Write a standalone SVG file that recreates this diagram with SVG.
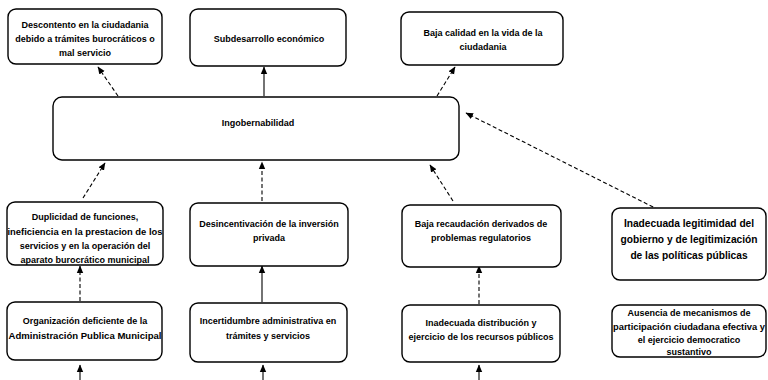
<svg xmlns="http://www.w3.org/2000/svg" width="768" height="380" viewBox="0 0 768 380">
<style>
.box{fill:#fff;stroke:#000;stroke-width:1.4}
.t{font-family:"Liberation Sans",Arial,sans-serif;font-weight:bold;font-size:9px;fill:#000;text-anchor:middle}
.t2{font-family:"Liberation Sans",Arial,sans-serif;font-weight:bold;font-size:10.2px;fill:#000;text-anchor:middle}
.c{stroke:#000;stroke-width:1.1;fill:none;marker-end:url(#ah)}
.d{stroke-dasharray:4 2.5}
</style>
<defs>
<marker id="ah" markerWidth="8" markerHeight="8" refX="7" refY="4" orient="auto" markerUnits="userSpaceOnUse">
<path d="M0,0.8 L7.5,4 L0,7.2 Z" fill="#000"/>
</marker>
</defs>
<rect width="768" height="380" fill="#fff"/>
<g id="connectors">
<line class="c d" x1="118" y1="96" x2="98" y2="67"/>
<line class="c" x1="264" y1="96" x2="264" y2="67"/>
<line class="c d" x1="437" y1="96" x2="455" y2="67"/>
<line class="c d" x1="83" y1="198" x2="105" y2="163"/>
<line class="c d" x1="262" y1="201" x2="262" y2="162"/>
<line class="c d" x1="453" y1="201" x2="430" y2="165"/>
<line class="c d" x1="659" y1="210" x2="466" y2="113"/>
<line class="c d" x1="80" y1="301" x2="80" y2="266"/>
<line class="c" x1="262" y1="302" x2="262" y2="266"/>
<line class="c d" x1="479" y1="304" x2="479" y2="266"/>
<line class="c" x1="80" y1="380" x2="80" y2="365"/>
<line class="c" x1="263" y1="380" x2="263" y2="365"/>
<line class="c" x1="479" y1="380" x2="479" y2="365"/>
</g>
<g id="n1"><rect class="box" x="8" y="9" width="154" height="55" rx="8"/>
<text class="t" x="85" y="28">Descontento en la ciudadania</text>
<text class="t" x="85" y="42">debido a trámites burocráticos o</text>
<text class="t" x="85" y="56">mal servicio</text></g>
<g id="n2"><rect class="box" x="190" y="9" width="156" height="57" rx="8"/>
<text class="t" x="269" y="42">Subdesarrollo económico</text></g>
<g id="n3"><rect class="box" x="401" y="12" width="162" height="53" rx="8"/>
<text class="t" x="483" y="36">Baja calidad en la vida de la</text>
<text class="t" x="483" y="50">ciudadania</text></g>
<g id="n4"><rect class="box" x="53" y="97" width="406" height="63" rx="9"/>
<text class="t" x="258" y="126">Ingobernabilidad</text></g>
<g id="n5"><rect class="box" x="7" y="202" width="156" height="63" rx="8"/>
<text class="t" x="85" y="220">Duplicidad de funciones,</text>
<text class="t" x="85" y="235" textLength="155" lengthAdjust="spacingAndGlyphs">ineficiencia en la prestacion de los</text>
<text class="t" x="85" y="249">servicios y en la operación del</text>
<text class="t" x="85" y="263">aparato burocrático municipal</text></g>
<g id="n6"><rect class="box" x="190" y="203" width="158" height="63" rx="8"/>
<text class="t" x="269" y="227">Desincentivación de la inversión</text>
<text class="t" x="269" y="241">privada</text></g>
<g id="n7"><rect class="box" x="402" y="205" width="159" height="62" rx="8"/>
<text class="t" x="481" y="227">Baja recaudación derivados de</text>
<text class="t" x="481" y="241">problemas regulatorios</text></g>
<g id="n8"><rect class="box" x="612" y="208" width="154" height="72" rx="8"/>
<text class="t2" x="689" y="227">Inadecuada legitimidad del</text>
<text class="t2" x="689" y="243">gobierno y de legitimización</text>
<text class="t2" x="689" y="259">de las políticas públicas</text></g>
<g id="n9"><rect class="box" x="7" y="302" width="155" height="58" rx="8"/>
<text class="t" x="85" y="324">Organización deficiente de la</text>
<text class="t" x="85" y="339" textLength="153" lengthAdjust="spacingAndGlyphs">Administración Publica Municipal</text></g>
<g id="n10"><rect class="box" x="190" y="303" width="157" height="59" rx="8"/>
<text class="t" x="268" y="324">Incertidumbre administrativa en</text>
<text class="t" x="268" y="339">trámites y servicios</text></g>
<g id="n11"><rect class="box" x="402" y="305" width="158" height="57" rx="8"/>
<text class="t" x="481" y="326">Inadecuada distribución y</text>
<text class="t" x="481" y="340">ejercicio de los recursos públicos</text></g>
<g id="n12"><rect class="box" x="612" y="305" width="154" height="52" rx="8"/>
<text class="t" x="689" y="316">Ausencia de mecanismos de</text>
<text class="t" x="689" y="330" textLength="152" lengthAdjust="spacingAndGlyphs">participación ciudadana efectiva y</text>
<text class="t" x="689" y="343">el ejercicio democratico</text>
<text class="t" x="689" y="355">sustantivo</text></g>
</svg>
